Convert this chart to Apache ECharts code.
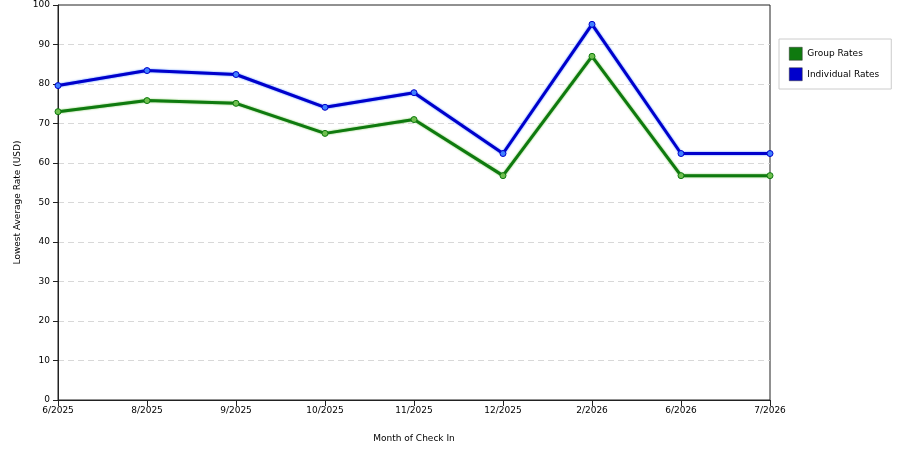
<!DOCTYPE html>
<html>
<head>
<meta charset="utf-8">
<script src="https://cdn.jsdelivr.net/npm/echarts@6/dist/echarts.min.js"></script>
<style>
  html, body { margin: 0; padding: 0; background: #fff; }
  #chart { width: 900px; height: 450px; }
</style>
</head>
<body>
<div id="chart"></div>
<script>
const months = ['6/2025', '8/2025', '9/2025', '10/2025', '11/2025', '12/2025', '2/2026', '6/2026', '7/2026'];
const groupRates = [73.0, 75.8, 75.1, 67.5, 71.0, 56.8, 87.0, 56.8, 56.8];
const individualRates = [79.6, 83.4, 82.4, 74.1, 77.8, 62.4, 95.1, 62.4, 62.4];

const FONT = 'DejaVu Sans';
const GREEN = '#0f7a0f';
const BLUE = '#0000cc';

const chart = echarts.init(document.getElementById('chart'));

function lineSeries(name, data, color, light) {
  return {
    name: name,
    type: 'line',
    data: data,
    symbol: 'circle',
    symbolSize: 6,
    lineStyle: { color: color, width: 3, shadowColor: light, shadowBlur: 2 },
    itemStyle: { color: light, borderColor: color, borderWidth: 1 },
    emphasis: { disabled: true }
  };
}

chart.setOption({
  animation: false,
  backgroundColor: '#fff',
  grid: { left: 58, right: 130, top: 5, bottom: 50, show: true, borderColor: '#222', borderWidth: 1 },
  legend: {
    orient: 'vertical',
    left: 779,
    top: 39,
    padding: [8, 12, 8, 10],
    itemGap: 7,
    itemWidth: 13,
    itemHeight: 13,
    icon: 'rect',
    borderColor: '#ccc',
    borderWidth: 1,
    textStyle: { fontFamily: FONT, fontSize: 9, color: '#000' },
    data: [
      { name: 'Group Rates', itemStyle: { color: GREEN, borderColor: '#333', borderWidth: 0.5 } },
      { name: 'Individual Rates', itemStyle: { color: BLUE, borderColor: '#333', borderWidth: 0.5 } }
    ]
  },
  xAxis: {
    type: 'category',
    data: months,
    boundaryGap: false,
    name: 'Month of Check In',
    nameLocation: 'middle',
    nameGap: 34,
    nameTextStyle: { fontFamily: FONT, fontSize: 9, color: '#000' },
    axisLine: { lineStyle: { color: '#222' } },
    axisTick: { alignWithLabel: true, length: 6, lineStyle: { color: '#222' } },
    axisLabel: { fontFamily: FONT, fontSize: 9, color: '#000', margin: 6, interval: 0 }
  },
  yAxis: {
    type: 'value',
    min: 0,
    max: 100,
    interval: 10,
    name: 'Lowest Average Rate (USD)',
    nameLocation: 'middle',
    nameGap: 36,
    nameTextStyle: { fontFamily: FONT, fontSize: 9, color: '#000' },
    axisLine: { show: true, lineStyle: { color: '#222' } },
    axisTick: { show: true, length: 5, lineStyle: { color: '#222' } },
    axisLabel: { fontFamily: FONT, fontSize: 9, color: '#000', margin: 8 },
    splitLine: { showMaxLine: false, showMinLine: false, lineStyle: { color: '#d8d8d8', type: [6, 4] } }
  },
  series: [
    lineSeries('Group Rates', groupRates, GREEN, '#6fbf4f'),
    lineSeries('Individual Rates', individualRates, BLUE, '#3f7fff')
  ]
});
</script>
</body>
</html>
